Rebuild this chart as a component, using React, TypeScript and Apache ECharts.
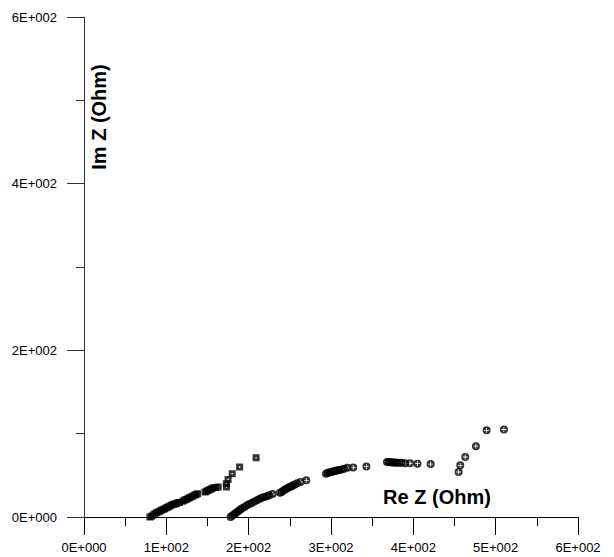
import React, { useEffect, useRef } from "react";
import * as echarts from "echarts";

// Series 1 (squares): [Re Z, Im Z] in Ohm
const squareSeries: number[][] = [
  [80, 0], [82, 1], [84, 2.5], [86, 4], [88, 5], [90, 6], [92, 7], [94, 8], [96, 9],
  [98, 10], [100, 11], [102, 12], [104, 13], [106, 14], [108, 15], [110, 15.5], [112, 16],
  [114, 17], [116, 17.5],
  [120, 19], [122, 20], [124, 21], [126, 22], [128, 23], [130, 24], [132, 25], [134, 26],
  [136, 27], [138, 28],
  [147, 30], [149, 31], [151, 32], [153, 33], [155, 34], [157, 35], [160, 35.5], [163, 36],
  [173, 36], [173, 40], [175, 45], [180, 52], [189, 60], [209, 71],
];

// Series 2 (circles): [Re Z, Im Z] in Ohm
const circleSeries: number[][] = [
  [178, 0], [180, 1.5], [182, 3], [184, 4.5], [186, 6], [188, 7.5], [190, 9], [192, 10.5],
  [195, 12], [198, 14], [201, 15.5], [204, 17], [207, 18.5], [210, 20], [213, 21.5],
  [216, 23], [219, 24], [222, 25], [225, 26], [229, 27.5],
  [238, 29], [240, 30], [242, 31.5], [244, 33], [246, 34], [248, 35], [250, 36], [252, 37],
  [254, 38], [256, 39], [259, 40.5], [263, 42], [270, 44],
  [294, 52], [296, 53], [298, 53.5], [300, 54], [302, 54.5], [304, 55], [306, 55.5],
  [308, 56], [310, 56.5], [313, 57], [316, 58], [320, 59], [327, 59.5], [343, 60.5],
  [368, 66], [370, 66], [372, 66], [374, 65.5], [376, 65.5], [378, 65.5], [380, 65],
  [383, 65], [386, 65], [390, 64.5], [396, 64.5], [405, 64], [421, 63.5],
  [455, 54], [457, 62], [463, 72], [476, 85], [489, 104], [510, 105],
];

const xTitle = "Re Z (Ohm)";
const yTitle = "Im Z (Ohm)";

const sciLabel = (v: number) => (v === 0 ? "0E+000" : `${v / 100}E+002`);

const SQUARE_PATH = "path://M0,0H10V10H0Z M4,4V6H6V4Z";
const CIRCLE_PATH =
  "path://M5,0A5,5 0 1 1 5,10A5,5 0 1 1 5,0Z M4.5,2L4.5,4.5L2,4.5L2,5.5L4.5,5.5L4.5,8L5.5,8L5.5,5.5L8,5.5L8,4.5L5.5,4.5L5.5,2Z";

const FONT = "'Liberation Sans', Arial, sans-serif";

export default function App() {
  const ref = useRef<HTMLDivElement>(null);
  useEffect(() => {
    if (!ref.current) return;
    const chart = echarts.init(ref.current, null, { renderer: "svg" });
    chart.setOption({
      animation: false,
      backgroundColor: "#ffffff",
      grid: { left: 84, top: 17, right: 36, bottom: 40, containLabel: false },
      xAxis: {
        type: "value",
        min: 0,
        max: 600,
        interval: 100,
        axisLine: { show: true, onZero: false, lineStyle: { color: "#000", width: 1 } },
        axisTick: { show: true, inside: false, length: 18, lineStyle: { color: "#000" } },
        minorTick: { show: true, splitNumber: 2, length: 9, lineStyle: { color: "#000" } },
        splitLine: { show: false },
        axisLabel: {
          formatter: sciLabel,
          color: "#000",
          fontSize: 13,
          fontFamily: FONT,
          margin: 24,
        },
      },
      yAxis: {
        type: "value",
        min: 0,
        max: 600,
        interval: 200,
        axisLine: { show: true, onZero: false, lineStyle: { color: "#333", width: 1 } },
        axisTick: { show: true, length: 17, lineStyle: { color: "#333" } },
        minorTick: { show: true, splitNumber: 2, length: 8, lineStyle: { color: "#333" } },
        splitLine: { show: false },
        axisLabel: {
          formatter: sciLabel,
          color: "#000",
          fontSize: 13,
          fontFamily: FONT,
          margin: 27,
        },
      },
      graphic: [
        {
          type: "text",
          x: 99,
          y: 117,
          rotation: Math.PI / 2,
          style: {
            text: yTitle,
            fontSize: 20,
            fontWeight: "bold",
            fontFamily: FONT,
            fill: "#000",
            align: "center",
            verticalAlign: "middle",
          },
        },
        {
          type: "text",
          x: 437,
          y: 497,
          style: {
            text: xTitle,
            fontSize: 20,
            fontWeight: "bold",
            fontFamily: FONT,
            fill: "#000",
            align: "center",
            verticalAlign: "middle",
          },
        },
      ],
      series: [
        {
          type: "scatter",
          data: squareSeries,
          symbol: SQUARE_PATH,
          symbolSize: 7,
          itemStyle: { color: "#000" },
        },
        {
          type: "scatter",
          data: circleSeries,
          symbol: CIRCLE_PATH,
          symbolSize: 8,
          itemStyle: { color: "#000" },
        },
      ],
    });
    return () => chart.dispose();
  }, []);
  return (
    <div
      ref={ref}
      style={{ position: "fixed", left: 0, top: 0, width: 614, height: 557, background: "#fff" }}
    />
  );
}
